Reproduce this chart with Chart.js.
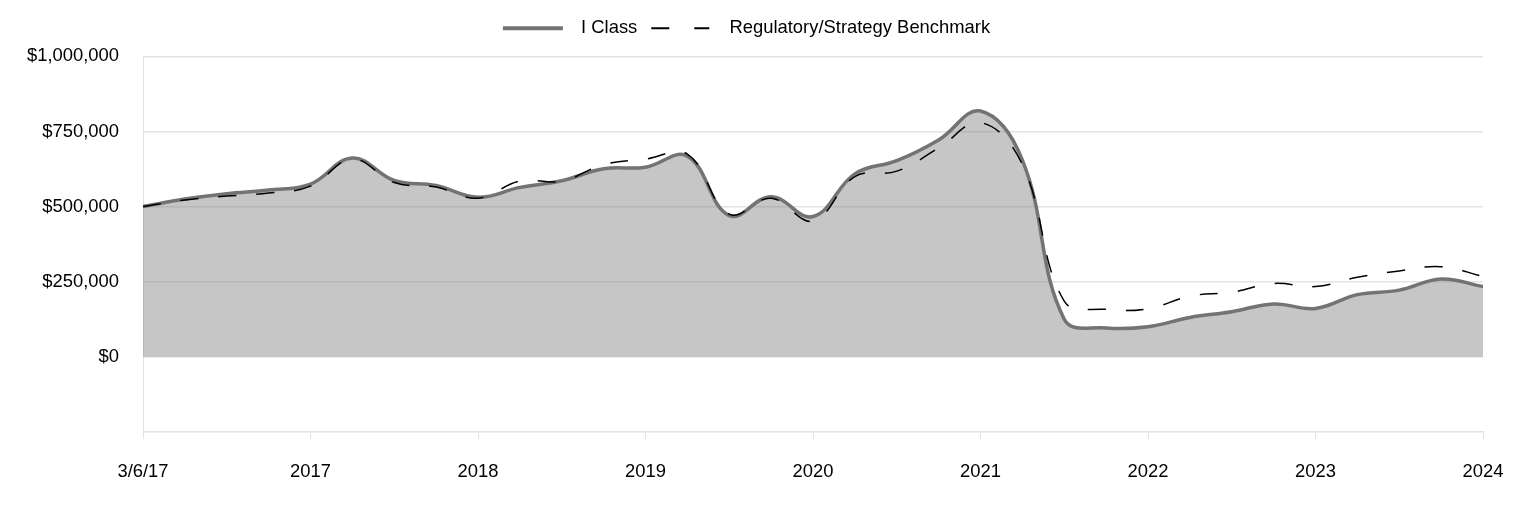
<!DOCTYPE html>
<html>
<head>
<meta charset="utf-8">
<script src="https://cdn.jsdelivr.net/npm/chart.js@4/dist/chart.umd.min.js"></script>
<style>
  html, body { margin: 0; padding: 0; background: #fff; }
  #wrap { width: 1524px; height: 516px; }
</style>
</head>
<body>
<div id="wrap"><canvas id="growthChart"></canvas></div>
<script>
// Growth of $500,000 — quarterly points, 3/6/17 through 2024
const X_TICK_LABELS = ["3/6/17", "2017", "2018", "2019", "2020", "2021", "2022", "2023", "2024"];
const POINTS_PER_LABEL = 4;

const I_CLASS = [
  500000, 525000, 543000, 555000, 575000, 662000, 587000, 570000,
  531000, 564000, 586000, 626000, 631000, 668000, 470000, 533000,
  467000, 609000, 653000, 722000, 818000, 655000, 125000, 96000,
  100000, 131000, 150000, 176000, 161000, 207000, 222000, 259000,
  234000
];

const BENCHMARK = [
  500000, 522000, 535000, 545000, 568000, 658000, 580000, 565000,
  528000, 585000, 585000, 640000, 658000, 675000, 475000, 528000,
  452000, 600000, 618000, 695000, 780000, 640000, 185000, 158000,
  160000, 202000, 215000, 244000, 234000, 265000, 286000, 300000,
  268000
];

const FONT = { family: "'Liberation Sans', Arial, sans-serif", size: 18.4 };
const GRID = "#e3e3e3";

// legend swatches: the drawn part of each sample line, then blank up to the label
const LEGEND_SWATCH = [
  { width: 4, dash: [60, 50] },
  { width: 2, dash: [18, 25, 15, 50] }
];

function toPoints(values) {
  return values.map((v, i) => ({ x: i, y: v }));
}

// extra room between legend and plot
const legendGap = {
  id: "legendGap",
  beforeInit(chart) {
    const fit = chart.legend.fit;
    chart.legend.fit = function () {
      fit.call(this);
      this.height += 9;
    };
  }
};

const ctx = document.getElementById("growthChart").getContext("2d");

new Chart(ctx, {
  type: "line",
  data: {
    datasets: [
      {
        label: "I Class",
        data: toPoints(I_CLASS),
        borderColor: "#737373",
        backgroundColor: "rgba(131, 131, 131, 0.46)",
        borderWidth: 3.5,
        fill: "origin",
        pointRadius: 0,
        tension: 0.4,
        order: 2
      },
      {
        label: "Regulatory/Strategy Benchmark",
        data: toPoints(BENCHMARK),
        borderColor: "#000",
        backgroundColor: "#000",
        borderWidth: 1.5,
        borderDash: [18, 20],
        fill: false,
        pointRadius: 0,
        tension: 0.4,
        order: 1
      }
    ]
  },
  plugins: [legendGap],
  options: {
    responsive: true,
    maintainAspectRatio: false,
    animation: false,
    layout: { padding: { left: 10, right: 41, top: 5, bottom: 11 } },
    plugins: {
      legend: {
        position: "top",
        labels: {
          color: "#000",
          font: FONT,
          usePointStyle: true,
          pointStyle: "line",
          pointStyleWidth: 69,
          boxHeight: 18,
          padding: 14,
          sort: (a, b) => a.datasetIndex - b.datasetIndex,
          generateLabels(chart) {
            const items = Chart.defaults.plugins.legend.labels.generateLabels(chart);
            return items.map((item) => {
              const ds = chart.data.datasets[item.datasetIndex];
              const sw = LEGEND_SWATCH[item.datasetIndex];
              item.lineWidth = sw.width;
              item.lineDash = sw.dash;
              item.strokeStyle = ds.borderColor;
              return item;
            });
          }
        }
      },
      tooltip: { enabled: false }
    },
    scales: {
      x: {
        type: "linear",
        min: 0,
        max: (X_TICK_LABELS.length - 1) * POINTS_PER_LABEL,
        ticks: {
          stepSize: POINTS_PER_LABEL,
          color: "#000",
          font: FONT,
          padding: 22,
          maxRotation: 0,
          callback: (v) => X_TICK_LABELS[v / POINTS_PER_LABEL]
        },
        grid: { drawOnChartArea: false, color: GRID, tickLength: 7 },
        border: { color: GRID },
        afterFit(scale) {
          // last label may hang into the right padding
          scale.paddingRight = 0;
          scale.paddingLeft = 0;
        }
      },
      y: {
        min: -250000,
        max: 1000000,
        ticks: {
          stepSize: 250000,
          color: "#000",
          font: FONT,
          padding: 24,
          callback: (v) => (v < 0 ? "" : "$" + v.toLocaleString("en-US"))
        },
        grid: { color: GRID, drawTicks: false, lineWidth: 1.5 },
        border: { color: GRID },
        afterFit(scale) { scale.width = 133; }
      }
    }
  }
});
</script>
</body>
</html>
